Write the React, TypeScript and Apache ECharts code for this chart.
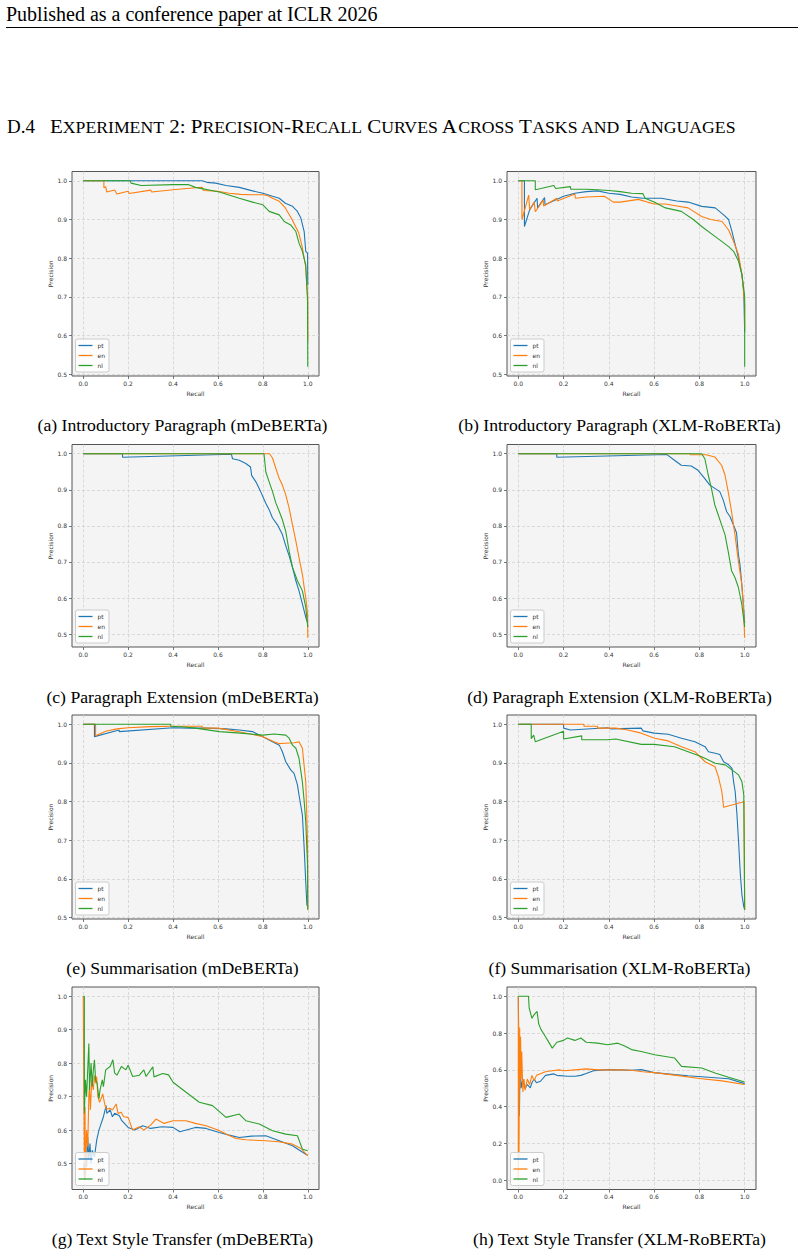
import React, { useEffect, useRef } from "react";
import * as echarts from "echarts";

// ---------- labels ----------
const LANGS = ["pt", "en", "nl"];
const COLORS = ["#1f77b4", "#ff7f0e", "#2ca02c"];
const X_TICKS = [0, 0.2, 0.4, 0.6, 0.8, 1.0];
const Y_TICKS = [0.5, 0.6, 0.7, 0.8, 0.9, 1.0];
const Y_TICKS_H = [0.0, 0.2, 0.4, 0.6, 0.8, 1.0];
const CAPTIONS = [
  "(a) Introductory Paragraph (mDeBERTa)",
  "(b) Introductory Paragraph (XLM-RoBERTa)",
  "(c) Paragraph Extension (mDeBERTa)",
  "(d) Paragraph Extension (XLM-RoBERTa)",
  "(e) Summarisation (mDeBERTa)",
  "(f) Summarisation (XLM-RoBERTa)",
  "(g) Text Style Transfer (mDeBERTa)",
  "(h) Text Style Transfer (XLM-RoBERTa)",
];
const HEADER = "Published as a conference paper at ICLR 2026";

// ---------- data: [recall, precision] ----------
const A_PT = [[0,1],[0.53,1],[0.55,0.996],[0.59,0.994],[0.636,0.988],[0.695,0.983],[0.754,0.974],[0.8,0.968],[0.843,0.96],[0.873,0.955],[0.9,0.942],[0.932,0.934],[0.954,0.921],[0.969,0.904],[0.984,0.869],[0.991,0.818],[0.999,0.813],[1,0.73]];
const A_EN = [[0,1],[0.092,1],[0.092,0.982],[0.1,0.985],[0.105,0.971],[0.14,0.976],[0.15,0.966],[0.2,0.973],[0.205,0.967],[0.3,0.976],[0.305,0.971],[0.4,0.977],[0.5,0.982],[0.53,0.983],[0.535,0.975],[0.6,0.973],[0.65,0.968],[0.7,0.965],[0.75,0.964],[0.8,0.964],[0.82,0.962],[0.843,0.955],[0.873,0.947],[0.9,0.93],[0.93,0.9],[0.96,0.865],[0.975,0.83],[0.99,0.78],[1,0.7],[1,0.585]];
const A_NL = [[0,1],[0.21,1],[0.213,0.994],[0.258,0.988],[0.4,0.99],[0.47,0.99],[0.5,0.983],[0.606,0.971],[0.695,0.955],[0.754,0.945],[0.8,0.938],[0.828,0.921],[0.873,0.912],[0.895,0.895],[0.924,0.886],[0.947,0.869],[0.961,0.839],[0.976,0.818],[0.991,0.783],[0.999,0.688],[1,0.52]];

const B_PT = [[0,1],[0.027,1],[0.027,0.882],[0.05,0.925],[0.083,0.955],[0.085,0.93],[0.116,0.957],[0.118,0.938],[0.2,0.96],[0.25,0.968],[0.3,0.972],[0.35,0.974],[0.4,0.968],[0.45,0.965],[0.5,0.958],[0.55,0.955],[0.632,0.955],[0.7,0.948],[0.75,0.945],[0.81,0.934],[0.87,0.93],[0.907,0.912],[0.929,0.9],[0.944,0.869],[0.958,0.835],[0.973,0.8],[0.988,0.757],[0.996,0.714],[1,0.61]];
const B_EN = [[0,1],[0.016,1],[0.016,0.9],[0.046,0.963],[0.05,0.925],[0.07,0.945],[0.075,0.92],[0.11,0.95],[0.112,0.935],[0.17,0.955],[0.172,0.948],[0.25,0.966],[0.252,0.955],[0.3,0.958],[0.38,0.96],[0.42,0.945],[0.45,0.945],[0.53,0.952],[0.57,0.945],[0.6,0.94],[0.65,0.94],[0.7,0.935],[0.75,0.93],[0.81,0.908],[0.85,0.9],[0.9,0.895],[0.929,0.873],[0.951,0.843],[0.973,0.809],[0.988,0.757],[1,0.68],[1,0.62]];
const B_NL = [[0,1],[0.075,1],[0.075,0.977],[0.1,0.98],[0.157,0.988],[0.165,0.98],[0.23,0.985],[0.232,0.978],[0.3,0.978],[0.35,0.977],[0.4,0.975],[0.45,0.972],[0.5,0.968],[0.55,0.967],[0.56,0.955],[0.6,0.945],[0.65,0.93],[0.72,0.921],[0.773,0.9],[0.81,0.882],[0.87,0.856],[0.9,0.843],[0.929,0.83],[0.951,0.818],[0.973,0.792],[0.988,0.757],[1,0.7],[1,0.52]];

const C_PT = [[0,1],[0.175,1],[0.175,0.99],[0.62,0.998],[0.66,0.998],[0.665,0.986],[0.695,0.982],[0.724,0.973],[0.745,0.963],[0.75,0.94],[0.769,0.922],[0.79,0.895],[0.813,0.863],[0.828,0.845],[0.843,0.822],[0.865,0.803],[0.887,0.776],[0.9,0.749],[0.917,0.717],[0.932,0.685],[0.947,0.648],[0.961,0.62],[0.976,0.584],[0.991,0.547],[1,0.53]];
const C_EN = [[0,1],[0.83,1],[0.843,0.988],[0.858,0.959],[0.873,0.931],[0.887,0.913],[0.902,0.886],[0.917,0.849],[0.932,0.803],[0.947,0.758],[0.961,0.712],[0.976,0.666],[0.984,0.63],[0.991,0.602],[0.999,0.557],[1,0.49]];
const C_NL = [[0,1],[0.805,1],[0.813,0.95],[0.828,0.922],[0.843,0.895],[0.858,0.863],[0.873,0.84],[0.887,0.817],[0.902,0.785],[0.917,0.73],[0.932,0.685],[0.954,0.648],[0.976,0.62],[0.991,0.575],[1,0.52]];

const D_PT = [[0,1],[0.17,1],[0.17,0.99],[0.655,0.998],[0.69,0.982],[0.72,0.968],[0.764,0.966],[0.794,0.954],[0.824,0.931],[0.846,0.913],[0.868,0.904],[0.89,0.895],[0.905,0.872],[0.92,0.84],[0.935,0.826],[0.95,0.803],[0.964,0.781],[0.972,0.721],[0.979,0.694],[0.987,0.639],[0.994,0.584],[1,0.53]];
const D_EN = [[0,1],[0.76,1],[0.76,0.997],[0.83,0.997],[0.868,0.991],[0.898,0.968],[0.913,0.941],[0.927,0.895],[0.942,0.84],[0.957,0.776],[0.972,0.703],[0.987,0.639],[0.994,0.584],[1,0.49]];
const D_NL = [[0,1],[0.81,1],[0.824,0.986],[0.839,0.941],[0.853,0.904],[0.868,0.858],[0.883,0.831],[0.898,0.803],[0.913,0.776],[0.927,0.73],[0.942,0.676],[0.957,0.657],[0.972,0.63],[0.987,0.584],[1,0.52]];

const E_PT = [[0,1],[0.05,1],[0.05,0.968],[0.16,0.985],[0.16,0.981],[0.4,0.991],[0.47,0.99],[0.55,0.99],[0.636,0.988],[0.695,0.985],[0.754,0.981],[0.784,0.972],[0.813,0.964],[0.843,0.955],[0.873,0.946],[0.887,0.929],[0.902,0.903],[0.924,0.882],[0.939,0.873],[0.954,0.843],[0.961,0.817],[0.976,0.765],[0.984,0.679],[0.991,0.592],[0.996,0.532],[1,0.53]];
const E_EN = [[0,1],[0.055,1],[0.055,0.97],[0.1,0.982],[0.15,0.988],[0.2,0.991],[0.3,0.994],[0.4,0.995],[0.53,0.995],[0.53,0.99],[0.6,0.99],[0.7,0.98],[0.8,0.968],[0.85,0.955],[0.87,0.95],[0.9,0.951],[0.94,0.952],[0.961,0.955],[0.976,0.938],[0.991,0.851],[0.999,0.696],[1,0.52]];
const E_NL = [[0,1],[0.39,1],[0.39,0.995],[0.45,0.993],[0.5,0.99],[0.606,0.981],[0.7,0.977],[0.8,0.972],[0.85,0.975],[0.902,0.972],[0.917,0.964],[0.932,0.946],[0.947,0.938],[0.961,0.912],[0.976,0.851],[0.984,0.8],[0.991,0.748],[0.999,0.636],[1,0.52]];

const F_PT = [[0,1],[0.2,1],[0.2,0.99],[0.23,0.985],[0.395,0.991],[0.41,0.988],[0.543,0.99],[0.55,0.983],[0.6,0.977],[0.662,0.974],[0.721,0.964],[0.78,0.955],[0.825,0.942],[0.84,0.929],[0.87,0.925],[0.89,0.922],[0.907,0.903],[0.929,0.895],[0.944,0.886],[0.951,0.851],[0.958,0.826],[0.966,0.765],[0.973,0.696],[0.981,0.61],[0.988,0.558],[0.996,0.528],[1,0.52]];
const F_EN = [[0,1],[0.29,1],[0.29,0.995],[0.35,0.995],[0.35,0.99],[0.43,0.99],[0.484,0.985],[0.543,0.977],[0.602,0.964],[0.662,0.957],[0.721,0.942],[0.78,0.929],[0.825,0.903],[0.869,0.89],[0.884,0.864],[0.899,0.826],[0.907,0.785],[0.988,0.798],[0.997,0.8],[1,0.8],[1,0.52]];
const F_NL = [[0,1],[0.057,1],[0.057,0.963],[0.068,0.972],[0.075,0.955],[0.2,0.982],[0.2,0.962],[0.28,0.97],[0.28,0.96],[0.395,0.96],[0.43,0.962],[0.543,0.948],[0.6,0.948],[0.69,0.942],[0.75,0.929],[0.81,0.916],[0.87,0.899],[0.914,0.895],[0.944,0.882],[0.973,0.869],[0.988,0.851],[0.996,0.817],[1,0.52]];

const G_PT = [[0.003,0.5],[0.006,0.45],[0.01,0.55],[0.015,0.49],[0.02,0.58],[0.025,0.51],[0.03,0.56],[0.035,0.5],[0.04,0.54],[0.05,0.52],[0.06,0.57],[0.07,0.6],[0.08,0.62],[0.09,0.64],[0.102,0.673],[0.105,0.65],[0.12,0.66],[0.13,0.64],[0.14,0.65],[0.161,0.643],[0.17,0.63],[0.2,0.608],[0.23,0.6],[0.265,0.613],[0.3,0.605],[0.35,0.61],[0.4,0.608],[0.43,0.595],[0.5,0.608],[0.547,0.605],[0.606,0.593],[0.65,0.585],[0.695,0.578],[0.75,0.582],[0.813,0.583],[0.873,0.568],[0.932,0.553],[0.991,0.528],[1,0.525]];
const G_EN = [[0,1],[0.003,1],[0.005,0.52],[0.008,0.67],[0.01,0.45],[0.015,0.6],[0.02,0.55],[0.025,0.7],[0.028,0.733],[0.032,0.66],[0.038,0.75],[0.045,0.72],[0.05,0.763],[0.055,0.74],[0.06,0.76],[0.065,0.7],[0.073,0.683],[0.08,0.695],[0.087,0.708],[0.095,0.68],[0.102,0.663],[0.12,0.665],[0.13,0.66],[0.147,0.678],[0.155,0.65],[0.169,0.653],[0.18,0.64],[0.2,0.638],[0.22,0.6],[0.25,0.61],[0.27,0.6],[0.3,0.615],[0.324,0.633],[0.36,0.62],[0.4,0.628],[0.458,0.628],[0.5,0.62],[0.547,0.613],[0.6,0.6],[0.636,0.588],[0.68,0.575],[0.724,0.571],[0.813,0.568],[0.87,0.565],[0.932,0.558],[0.97,0.545],[1,0.523]];
const G_NL = [[0,1],[0.005,1],[0.005,0.65],[0.01,0.75],[0.015,0.7],[0.025,0.859],[0.028,0.72],[0.035,0.8],[0.04,0.73],[0.045,0.78],[0.05,0.81],[0.055,0.75],[0.062,0.74],[0.07,0.693],[0.075,0.72],[0.085,0.75],[0.09,0.73],[0.1,0.78],[0.12,0.79],[0.132,0.81],[0.14,0.77],[0.15,0.764],[0.17,0.79],[0.19,0.78],[0.2,0.794],[0.22,0.76],[0.25,0.764],[0.27,0.78],[0.28,0.76],[0.31,0.789],[0.315,0.759],[0.354,0.769],[0.38,0.765],[0.4,0.743],[0.458,0.713],[0.517,0.683],[0.576,0.673],[0.636,0.638],[0.695,0.648],[0.724,0.628],[0.784,0.618],[0.843,0.598],[0.902,0.588],[0.954,0.583],[0.976,0.543],[1,0.538]];

const H_PT = [[0,1],[0.003,1],[0.005,0.35],[0.008,0.7],[0.012,0.5],[0.02,0.55],[0.03,0.5],[0.04,0.52],[0.053,0.502],[0.06,0.53],[0.07,0.55],[0.08,0.53],[0.098,0.538],[0.12,0.57],[0.157,0.578],[0.17,0.57],[0.217,0.565],[0.25,0.565],[0.276,0.57],[0.3,0.58],[0.335,0.596],[0.395,0.601],[0.45,0.6],[0.5,0.598],[0.543,0.601],[0.6,0.585],[0.691,0.574],[0.75,0.568],[0.84,0.56],[0.929,0.552],[1,0.525]];
const H_EN = [[0,0],[0,1],[0.003,0.12],[0.006,0.83],[0.008,0.5],[0.01,0.78],[0.012,0.55],[0.015,0.7],[0.02,0.48],[0.025,0.55],[0.03,0.49],[0.04,0.55],[0.05,0.52],[0.06,0.57],[0.07,0.54],[0.08,0.57],[0.1,0.58],[0.12,0.59],[0.15,0.595],[0.18,0.6],[0.2,0.595],[0.25,0.6],[0.3,0.605],[0.35,0.6],[0.4,0.6],[0.45,0.6],[0.5,0.598],[0.55,0.59],[0.6,0.585],[0.7,0.57],[0.8,0.553],[0.9,0.54],[1,0.52]];
const H_NL = [[0,1],[0.045,1],[0.048,0.935],[0.06,0.88],[0.07,0.9],[0.083,0.917],[0.09,0.85],[0.1,0.82],[0.11,0.8],[0.12,0.78],[0.13,0.76],[0.15,0.718],[0.17,0.75],[0.2,0.76],[0.217,0.773],[0.25,0.76],[0.276,0.773],[0.3,0.75],[0.35,0.745],[0.395,0.736],[0.439,0.745],[0.47,0.73],[0.5,0.71],[0.543,0.7],[0.602,0.682],[0.691,0.664],[0.721,0.619],[0.81,0.61],[0.869,0.583],[0.929,0.56],[1,0.534]];

const PANEL_SERIES = [
  [A_PT, A_EN, A_NL], [B_PT, B_EN, B_NL],
  [C_PT, C_EN, C_NL], [D_PT, D_EN, D_NL],
  [E_PT, E_EN, E_NL], [F_PT, F_EN, F_NL],
  [G_PT, G_EN, G_NL], [H_PT, H_EN, H_NL],
];
const PANEL_YTICKS = [Y_TICKS, Y_TICKS, Y_TICKS, Y_TICKS, Y_TICKS, Y_TICKS, Y_TICKS, Y_TICKS_H];

// ---------- layout ----------
const COL_LEFT = [72, 507];
const COL_WIDTH = [247, 249];
const ROW_TOP = [171.5, 444.5, 715, 987];
const ROW_HEIGHT = [204.5, 202.5, 204, 202.5];
const CAP_X = [182.5, 619.5];
const CAP_Y = [424.5, 696.5, 967.5, 1239];
const SANS = "DejaVu Sans";
const SERIF = "Liberation Serif";

function yRange(list: number[][][]) {
  let lo = Infinity, hi = -Infinity;
  list.forEach((s) => s.forEach((p) => { lo = Math.min(lo, p[1]); hi = Math.max(hi, p[1]); }));
  const pad = 0.05 * (hi - lo);
  return [lo - pad, hi + pad];
}

function buildOption() {
  const grid: any[] = [], xAxis: any[] = [], yAxis: any[] = [], series: any[] = [], legend: any[] = [];
  const graphic: any[] = [];
  PANEL_SERIES.forEach((ps, i) => {
    const col = i % 2, row = Math.floor(i / 2);
    const left = COL_LEFT[col], top = ROW_TOP[row], w = COL_WIDTH[col], h = ROW_HEIGHT[row];
    const [ymin, ymax] = yRange(ps);
    grid.push({ left, top, width: w, height: h, show: true, backgroundColor: "#f4f4f4", borderColor: "#555", borderWidth: 1, containLabel: false, outerBoundsMode: "none" });
    const common = {
      gridIndex: i, type: "value",
      axisLine: { show: false, onZero: false },
      splitLine: { show: true, lineStyle: { color: "#d2d2d2", type: [3, 2], width: 0.8 } },
      nameLocation: "middle",
      nameTextStyle: { fontSize: 6, color: "#333", fontFamily: SANS },
    };
    xAxis.push({
      ...common, min: -0.05, max: 1.05, name: "Recall", nameGap: 14,
      axisTick: { show: true, length: 3, lineStyle: { color: "#555", width: 0.8 }, customValues: X_TICKS },
      axisLabel: { customValues: X_TICKS, formatter: (v: number) => v.toFixed(1), fontSize: 6, color: "#333", margin: 4, fontFamily: SANS },
    });
    yAxis.push({
      ...common, min: ymin, max: ymax, name: "Precision", nameGap: 17,
      axisTick: { show: true, length: 3, lineStyle: { color: "#555", width: 0.8 }, customValues: PANEL_YTICKS[i] },
      axisLabel: { customValues: PANEL_YTICKS[i], formatter: (v: number) => v.toFixed(1), fontSize: 6, color: "#333", margin: 5, fontFamily: SANS },
    });
    ps.forEach((d, k) => {
      series.push({
        type: "line", name: LANGS[k], xAxisIndex: i, yAxisIndex: i, data: d,
        symbol: "none", showSymbol: false, silent: true, clip: true,
        lineStyle: { width: 1.1, color: COLORS[k] }, itemStyle: { color: COLORS[k] },
      });
    });
    legend.push({
      show: true, orient: "vertical", left: left + 3.5, top: top + h - 4 - 33,
      data: LANGS.map((n, k) => ({ name: n, icon: "rect", itemStyle: { color: COLORS[k], borderWidth: 0 } })),
      itemWidth: 14, itemHeight: 1.3, itemGap: 3, padding: [3, 4, 3, 3],
      backgroundColor: "rgba(255,255,255,0.8)", borderColor: "#cccccc", borderWidth: 1, borderRadius: 2,
      textStyle: { fontSize: 6, color: "#333", fontFamily: SANS, lineHeight: 7 },
      selectedMode: false,
    });
    graphic.push({
      type: "text", x: CAP_X[col], y: CAP_Y[row],
      style: { text: CAPTIONS[i], fontSize: 17.7, fontFamily: SERIF, fill: "#000", align: "center", verticalAlign: "middle" },
    });
  });

  graphic.push({ type: "text", x: 6, y: 14.3, style: { text: HEADER, fontSize: 20, fontFamily: SERIF, fill: "#000", align: "left", verticalAlign: "middle" } });
  graphic.push({ type: "line", shape: { x1: 6, y1: 27.5, x2: 798, y2: 27.5 }, style: { stroke: "#000", lineWidth: 1 } });
  graphic.push({ type: "text", x: 7, y: 126.3, style: { text: "D.4", fontSize: 19, fontFamily: SERIF, fill: "#000", align: "left", verticalAlign: "middle" } });
  const B = 19, S = 16;
  const headingRich = "{b|E}{s|XPERIMENT}{b| 2: P}{s|RECISION}{b|-R}{s|ECALL}{b| C}{s|URVES}{b| A}{s|CROSS}{b| T}{s|ASKS}{s| AND}{b| L}{s|ANGUAGES}";
  graphic.push({
    type: "text", x: 50, y: 136, scaleX: 1.105, scaleY: 1,
    style: {
      text: headingRich, fill: "#000", align: "left", verticalAlign: "bottom",
      rich: {
        b: { fontSize: B, fontFamily: SERIF, lineHeight: B, verticalAlign: "bottom", fill: "#000" },
        s: { fontSize: S, fontFamily: SERIF, lineHeight: S, verticalAlign: "bottom", fill: "#000" },
      },
    },
  });

  return { animation: false, backgroundColor: "#ffffff", grid, xAxis, yAxis, series, legend, graphic };
}

export default function App() {
  const ref = useRef<HTMLDivElement>(null);
  useEffect(() => {
    document.body.style.margin = "0";
    if (!ref.current) return;
    const chart = echarts.init(ref.current, undefined, { renderer: "svg" });
    chart.setOption(buildOption() as any);
    return () => chart.dispose();
  }, []);
  return <div ref={ref} style={{ width: 804, height: 1254 }} />;
}
